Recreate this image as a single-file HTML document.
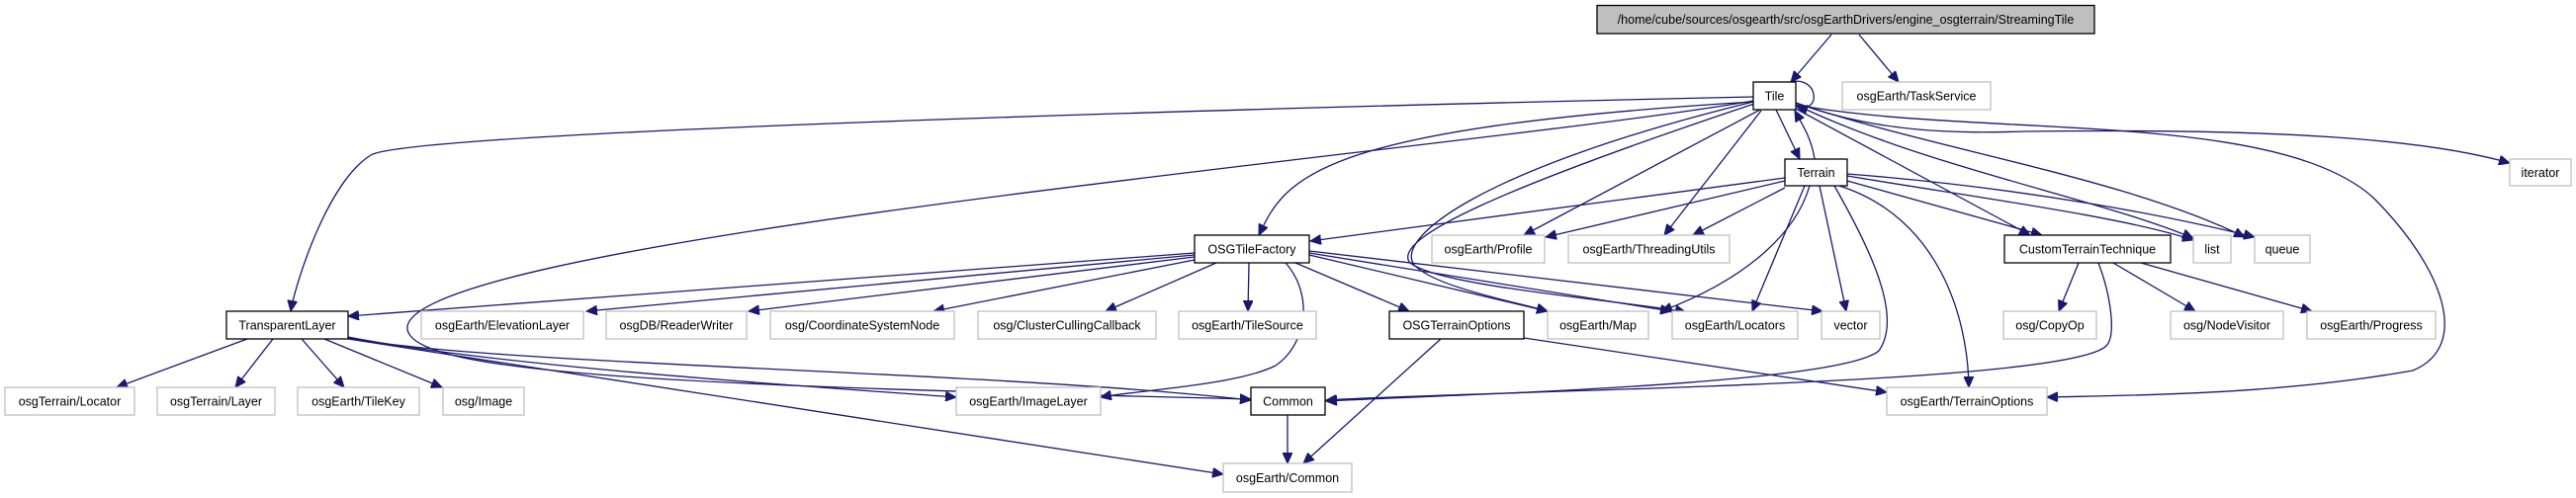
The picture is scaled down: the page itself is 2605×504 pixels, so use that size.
<!DOCTYPE html>
<html><head><meta charset="utf-8"><style>
html,body{margin:0;padding:0;background:#fff;width:2605px;height:504px;overflow:hidden}
svg{display:block}
text{font-family:"Liberation Sans",Arial,sans-serif;font-size:12.5px;fill:#000;text-anchor:middle}
.e{fill:none;stroke:#191970;stroke-width:1.3;marker-end:url(#a)}
.n{fill:#fff;stroke:#000;stroke-width:1.3}
.x{fill:#fff;stroke:#bfbfbf;stroke-width:1.3}
</style></head><body>
<svg width="2605" height="504" viewBox="0 0 2605 504" xmlns="http://www.w3.org/2000/svg">
<defs><marker id="a" markerUnits="userSpaceOnUse" markerWidth="12" markerHeight="10" refX="11" refY="5" orient="auto"><path d="M0,0 L11,5 L0,10 z" fill="#191970" stroke="#191970"/></marker></defs>
<g>
<path class="e" d="M1852,35 L1811,83"/>
<path class="e" d="M1880,35 L1920,83"/>
<path class="e" d="M1810,83 C1840,76 1842,116 1817,108"/>
<path class="e" d="M1773,98 C1500,104 420,130 375,157 C330,185 298,290 294,315"/>
<path class="e" d="M1773,102 C1500,150 430,240 412,330 C405,380 700,390 1265,404"/>
<path class="e" d="M1773,103 C1330,130 1300,180 1273,238"/>
<path class="e" d="M1780,111 L1541,238"/>
<path class="e" d="M1781,112 L1683,238"/>
<path class="e" d="M1796,111 L1820,161"/>
<path class="e" d="M1835,161 C1832,140 1822,125 1815,112"/>
<path class="e" d="M1773,103 C1500,170 1410,240 1430,268 C1450,290 1530,305 1565,315"/>
<path class="e" d="M1774,105 C1520,190 1410,240 1425,265 C1450,290 1650,305 1705,316"/>
<path class="e" d="M1816,110 L2053,238"/>
<path class="e" d="M1816,106 C1950,170 2120,200 2218,241"/>
<path class="e" d="M1816,104 C1950,150 2150,180 2270,240"/>
<path class="e" d="M1816,104 C1900,135 1980,135 2050,133 C2300,130 2450,140 2538,165"/>
<path class="e" d="M1816,106 C2000,140 2300,110 2400,200 C2470,270 2500,350 2440,375 C2300,400 2150,400 2070,402"/>
<path class="e" d="M1805,180 L1325,244"/>
<path class="e" d="M1805,183 L1563,240"/>
<path class="e" d="M1805,190 L1712,238"/>
<path class="e" d="M1830,188 C1815,240 1760,285 1680,315"/>
<path class="e" d="M1825,188 L1772,315"/>
<path class="e" d="M1840,188 L1867,315"/>
<path class="e" d="M1855,188 C1890,250 1925,320 1900,355 C1860,390 1450,400 1341,406"/>
<path class="e" d="M1860,188 C1960,220 1990,320 1991,392"/>
<path class="e" d="M1868,183 L2065,238"/>
<path class="e" d="M1868,178 C2000,200 2150,220 2218,243"/>
<path class="e" d="M1868,176 C2050,190 2200,220 2280,240"/>
<path class="e" d="M2102,266 L2082,315"/>
<path class="e" d="M2137,266 L2220,315"/>
<path class="e" d="M2165,266 L2338,315"/>
<path class="e" d="M2122,266 C2135,300 2140,340 2130,350 C2090,390 1500,395 1341,405"/>
<path class="e" d="M1208,256 L352,320"/>
<path class="e" d="M1208,258 L593,315"/>
<path class="e" d="M1208,260 L757,315"/>
<path class="e" d="M1208,263 L944,315"/>
<path class="e" d="M1230,266 L1118,315"/>
<path class="e" d="M1263,266 L1262,315"/>
<path class="e" d="M1310,266 L1425,315"/>
<path class="e" d="M1324,258 L1565,315"/>
<path class="e" d="M1324,256 L1690,315"/>
<path class="e" d="M1324,254 L1843,315"/>
<path class="e" d="M1300,266 C1330,300 1320,350 1290,370 C1250,390 1150,395 1113,402"/>
<path class="e" d="M250,343 L118,392"/>
<path class="e" d="M276,343 L238,392"/>
<path class="e" d="M305,343 L348,392"/>
<path class="e" d="M328,343 L447,392"/>
<path class="e" d="M352,341 C500,370 800,390 967,402"/>
<path class="e" d="M352,342 C500,370 1000,375 1265,405"/>
<path class="e" d="M352,343 L1237,480"/>
<path class="e" d="M1302,420 L1302,469"/>
<path class="e" d="M1457,343 L1318,469"/>
<path class="e" d="M1541,342 L1908,397"/>
</g>
<g>
<rect x="1615" y="5.5" width="503" height="28.5" fill="#bfbfbf" stroke="#000" stroke-width="1.3"/><text x="1866.5" y="24">/home/cube/sources/osgearth/src/osgEarthDrivers/engine_osgterrain/StreamingTile</text>
<rect class="n" x="1773" y="83" width="43" height="28"/><text x="1794.5" y="101.5">Tile</text>
<rect class="x" x="1863" y="83" width="150" height="28"/><text x="1938" y="101.5">osgEarth/TaskService</text>
<rect class="n" x="1805" y="161" width="63" height="27"/><text x="1836.5" y="179">Terrain</text>
<rect class="x" x="2538" y="161" width="62" height="27"/><text x="2569" y="179">iterator</text>
<rect class="n" x="1208" y="238" width="116" height="28"/><text x="1266" y="256.5">OSGTileFactory</text>
<rect class="x" x="1448" y="238" width="114" height="28"/><text x="1505" y="256.5">osgEarth/Profile</text>
<rect class="x" x="1586" y="238" width="163" height="28"/><text x="1667.5" y="256.5">osgEarth/ThreadingUtils</text>
<rect class="n" x="2027" y="238" width="168" height="28"/><text x="2111" y="256.5">CustomTerrainTechnique</text>
<rect class="x" x="2218" y="238" width="38" height="28"/><text x="2237" y="256.5">list</text>
<rect class="x" x="2280" y="238" width="56" height="28"/><text x="2308" y="256.5">queue</text>
<rect class="n" x="229" y="315" width="123" height="28"/><text x="290.5" y="333.5">TransparentLayer</text>
<rect class="x" x="426" y="315" width="164" height="28"/><text x="508" y="333.5">osgEarth/ElevationLayer</text>
<rect class="x" x="613" y="315" width="142" height="28"/><text x="684" y="333.5">osgDB/ReaderWriter</text>
<rect class="x" x="779" y="315" width="186" height="28"/><text x="872" y="333.5">osg/CoordinateSystemNode</text>
<rect class="x" x="989" y="315" width="180" height="28"/><text x="1079" y="333.5">osg/ClusterCullingCallback</text>
<rect class="x" x="1192" y="315" width="139" height="28"/><text x="1261.5" y="333.5">osgEarth/TileSource</text>
<rect class="n" x="1405" y="315" width="136" height="28"/><text x="1473" y="333.5">OSGTerrainOptions</text>
<rect class="x" x="1565" y="315" width="102" height="28"/><text x="1616" y="333.5">osgEarth/Map</text>
<rect class="x" x="1691" y="315" width="127" height="28"/><text x="1754.5" y="333.5">osgEarth/Locators</text>
<rect class="x" x="1842" y="315" width="59" height="28"/><text x="1871.5" y="333.5">vector</text>
<rect class="x" x="2026" y="315" width="94" height="28"/><text x="2073" y="333.5">osg/CopyOp</text>
<rect class="x" x="2195" y="315" width="114" height="28"/><text x="2252" y="333.5">osg/NodeVisitor</text>
<rect class="x" x="2333" y="315" width="130" height="28"/><text x="2398" y="333.5">osgEarth/Progress</text>
<rect class="x" x="5" y="392" width="131" height="28"/><text x="70.5" y="410.5">osgTerrain/Locator</text>
<rect class="x" x="159" y="392" width="119" height="28"/><text x="218.5" y="410.5">osgTerrain/Layer</text>
<rect class="x" x="301" y="392" width="123" height="28"/><text x="362.5" y="410.5">osgEarth/TileKey</text>
<rect class="x" x="448" y="392" width="82" height="28"/><text x="489" y="410.5">osg/Image</text>
<rect class="x" x="967" y="392" width="146" height="28"/><text x="1040" y="410.5">osgEarth/ImageLayer</text>
<rect class="n" x="1265" y="392" width="75" height="28"/><text x="1302.5" y="410.5">Common</text>
<rect class="x" x="1908" y="392" width="162" height="28"/><text x="1989" y="410.5">osgEarth/TerrainOptions</text>
<rect class="x" x="1237" y="469" width="130" height="29"/><text x="1302" y="488">osgEarth/Common</text>
</g>
</svg>
</body></html>
